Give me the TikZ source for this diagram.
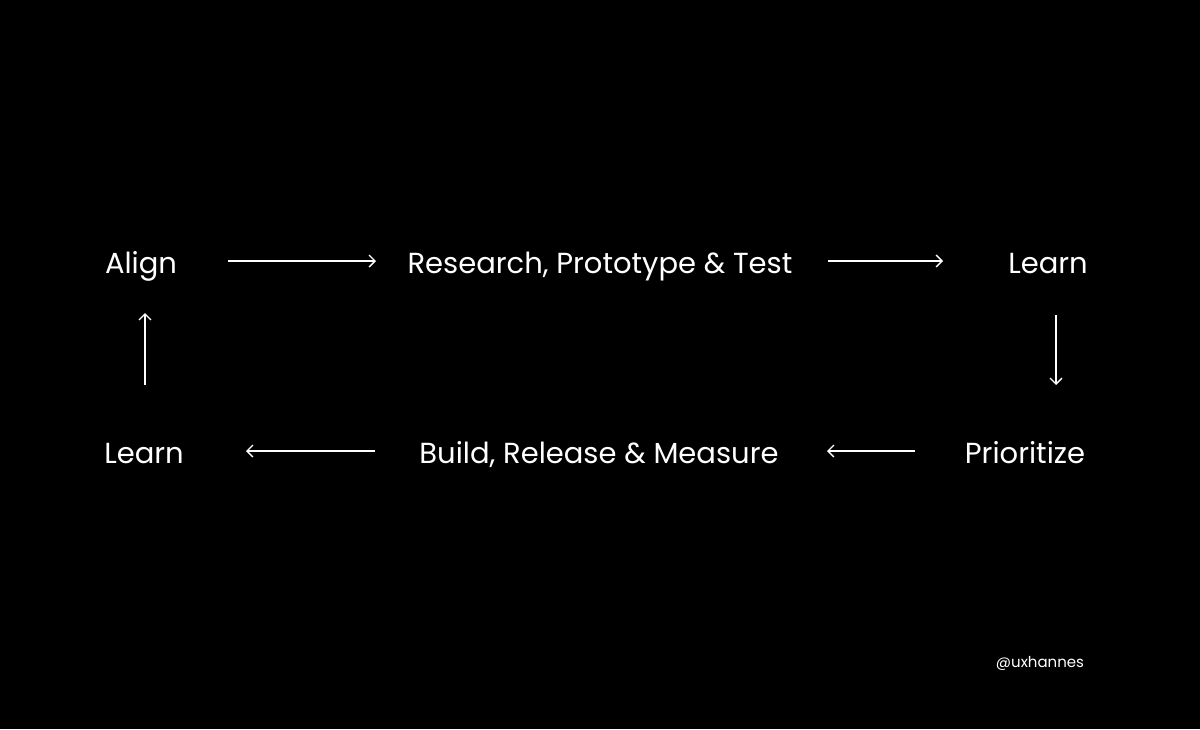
\documentclass[tikz,border=0pt]{standalone}
\usepackage{fontspec}
\setmainfont{Poppins}
\usetikzlibrary{arrows.meta}
\begin{document}
\begin{tikzpicture}[x=1pt,y=-1pt,
  lbl/.style={text=white,font=\fontsize{29}{34}\selectfont,inner sep=0pt,anchor=base},
  arr/.style={draw=white,line width=1.3pt,-{Straight Barb[length=6pt,width=12pt]}}]
\fill[black] (0,0) rectangle (1200,729);
\useasboundingbox (0,0) rectangle (1200,729);
\node[lbl] (align) at (141,273) {Align};
\node[lbl] (rpt) at (600,273) {Research, Prototype \& Test};
\node[lbl] (learn1) at (1048,273) {Learn};
\node[lbl] (prio) at (1025,463) {Prioritize};
\node[lbl] (brm) at (599,463) {Build, Release \& Measure};
\node[lbl] (learn2) at (144,463) {Learn};
\node[text=white,font=\fontsize{15}{18}\selectfont,anchor=base] (handle) at (1040,667) {@uxhannes};
\coordinate (a1) at (228,261); \coordinate (a2) at (376,261);
\coordinate (b1) at (828,261); \coordinate (b2) at (943,261);
\coordinate (c1) at (1056,315); \coordinate (c2) at (1056,385);
\coordinate (d1) at (915,451); \coordinate (d2) at (827,451);
\coordinate (e1) at (375,451); \coordinate (e2) at (246,451);
\coordinate (f1) at (145,385); \coordinate (f2) at (145,313);
\draw[arr] (a1) -- (a2);
\draw[arr] (b1) -- (b2);
\draw[arr] (c1) -- (c2);
\draw[arr] (d1) -- (d2);
\draw[arr] (e1) -- (e2);
\draw[arr] (f1) -- (f2);
\end{tikzpicture}
\end{document}
